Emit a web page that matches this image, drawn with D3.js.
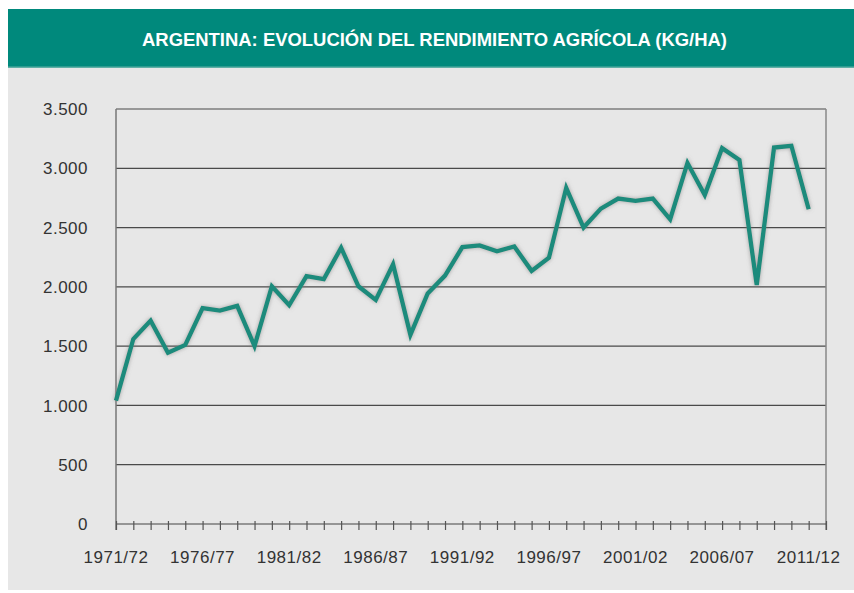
<!DOCTYPE html>
<html>
<head>
<meta charset="utf-8">
<script src="https://cdn.jsdelivr.net/npm/d3@7"></script>
<style>
  html, body { margin: 0; padding: 0; background: #ffffff; }
  svg { display: block; }
</style>
</head>
<body>
<svg id="chart" width="854" height="593"></svg>
<script>
const title = "ARGENTINA: EVOLUCIÓN DEL RENDIMIENTO AGRÍCOLA (KG/HA)";
const startYears = d3.range(1971, 2012);
const categories = startYears.map(y => y + "/" + String((y + 1) % 100).padStart(2, "0"));
const values = [1040, 1560, 1715, 1445, 1510, 1820, 1800, 1840, 1500, 2005,
                1845, 2090, 2065, 2330, 2005, 1890, 2190, 1595, 1945, 2095,
                2335, 2350, 2300, 2340, 2135, 2245, 2835, 2500, 2660, 2745,
                2725, 2745, 2570, 3045, 2775, 3170, 3070, 2015, 3175, 3190, 2655];
const yTicks = [0, 500, 1000, 1500, 2000, 2500, 3000, 3500];
const xLabelCats = ["1971/72", "1976/77", "1981/82", "1986/87", "1991/92", "1996/97", "2001/02", "2006/07", "2011/12"];

const svg = d3.select("#chart");
const defs = svg.append("defs");
const f = defs.append("filter").attr("id", "shadow").attr("x", "-10%").attr("y", "-10%").attr("width", "120%").attr("height", "120%");
f.append("feDropShadow").attr("dx", 0).attr("dy", 0).attr("stdDeviation", 2).attr("flood-color", "#777").attr("flood-opacity", 0.6);

// panel background
svg.append("rect").attr("x", 8).attr("y", 67).attr("width", 846).attr("height", 523).attr("fill", "#e7e7e7");
// header
svg.append("rect").attr("x", 8).attr("y", 9).attr("width", 846).attr("height", 58).attr("fill", "#00897c");
svg.append("rect").attr("x", 8).attr("y", 66.5).attr("width", 846).attr("height", 1.5).attr("fill", "#5fb0a6");
svg.append("text")
  .attr("x", 434.5).attr("y", 45.5)
  .attr("text-anchor", "middle")
  .attr("fill", "#ffffff")
  .attr("font-family", "'Liberation Sans', Arial, Helvetica, sans-serif")
  .attr("font-weight", "bold")
  .attr("font-size", 17.5)
  .attr("textLength", 585)
  .attr("lengthAdjust", "spacingAndGlyphs")
  .text(title);

const x = d3.scaleLinear().domain([0, 41]).range([116, 826]);
const y = d3.scaleLinear().domain([0, 3500]).range([524, 109]);

const fontFam = "'Liberation Sans', Arial, Helvetica, sans-serif";

// gridlines
svg.append("g").selectAll("line").data(yTicks.filter(d => d > 0)).join("line")
  .attr("x1", 116).attr("x2", 826)
  .attr("y1", d => y(d)).attr("y2", d => y(d))
  .attr("stroke", "#4a4a4a").attr("stroke-width", 1.2);

// y labels
svg.append("g").selectAll("text").data(yTicks).join("text")
  .attr("x", 88).attr("y", d => y(d))
  .attr("dy", "0.36em")
  .attr("text-anchor", "end")
  .attr("font-family", fontFam).attr("font-size", 17)
  .attr("letter-spacing", 0.5)
  .attr("fill", "#333")
  .text(d => d3.format(",")(d).replace(/,/g, "."));

// left axis and right border
svg.append("line").attr("x1", 116).attr("x2", 116).attr("y1", 109).attr("y2", 530).attr("stroke", "#777").attr("stroke-width", 1.5);
svg.append("line").attr("x1", 826).attr("x2", 826).attr("y1", 109).attr("y2", 530).attr("stroke", "#888").attr("stroke-width", 1.5);

// x axis
const xAxis = d3.axisBottom(x).tickValues(d3.range(0, 42)).tickSize(6).tickFormat("");
const gx = svg.append("g").attr("transform", "translate(0,524)").call(xAxis);
gx.select(".domain").attr("stroke", "#444").attr("stroke-width", 1.2).attr("d", "M116,0H826");
gx.selectAll(".tick line").attr("stroke", "#555").attr("stroke-width", 1.2).attr("y1", -3);

svg.append("g").selectAll("text").data(xLabelCats).join("text")
  .attr("x", d => x(categories.indexOf(d)))
  .attr("y", 563)
  .attr("text-anchor", "middle")
  .attr("font-family", fontFam).attr("font-size", 17)
  .attr("letter-spacing", 0.5)
  .attr("fill", "#333")
  .text(d => d);

// line
const line = d3.line().x((d, i) => x(i)).y(d => y(d));
svg.append("path").datum(values)
  .attr("d", line)
  .attr("fill", "none")
  .attr("stroke", "#1a8b7c")
  .attr("stroke-width", 4.3)
  .attr("stroke-linejoin", "miter")
  .attr("filter", "url(#shadow)");
</script>
</body>
</html>
